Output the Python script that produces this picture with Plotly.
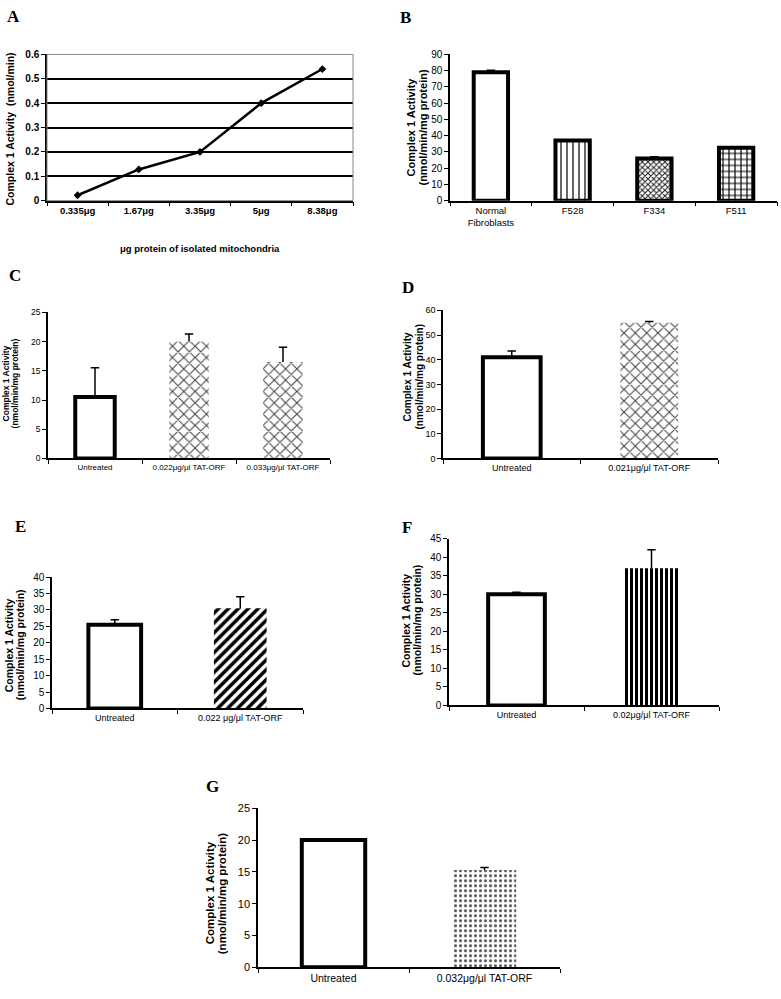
import plotly.graph_objects as go

W, H = 781, 999

# ---- data ----
a_cats = ['0.335μg', '1.67μg', '3.35μg', '5μg', '8.38μg']
a_vals = [0.022, 0.128, 0.2, 0.4, 0.54]

b_cats = ['Normal<br>Fibroblasts', 'F528', 'F334', 'F511']
b_vals = [79, 37, 26, 32.5]
b_err = [1.2, 0.3, 1.0, 0.3]

c_cats = ['Untreated', '0.022μg/μl TAT-ORF', '0.033μg/μl TAT-ORF']
c_vals = [10.5, 20, 16.5]
c_err = [5.0, 1.3, 2.5]

d_cats = ['Untreated', '0.021μg/μl TAT-ORF']
d_vals = [41, 55]
d_err = [2.5, 0.5]

e_cats = ['Untreated', '0.022 μg/μl TAT-ORF']
e_vals = [25.5, 30.5]
e_err = [1.5, 3.5]

f_cats = ['Untreated', '0.02μg/μl TAT-ORF']
f_vals = [30, 37]
f_err = [0.5, 5.0]

g_cats = ['Untreated', '0.032μg/μl TAT-ORF']
g_vals = [20, 15.3]
g_err = [0.2, 0.4]

SANS = 'Liberation Sans, Arial, sans-serif'
SERIF = 'Liberation Serif, Times New Roman, serif'
TITLE1 = 'Complex 1 Activity'
TITLE2 = '(nmol/min/mg protein)'


def px_x(p):
    return p / W


def px_y(p):
    return 1 - p / H


fig = go.Figure()
layout = dict(width=W, height=H, margin=dict(l=0, r=0, t=0, b=0),
              paper_bgcolor='white', plot_bgcolor='white',
              showlegend=False, barmode='overlay', annotations=[], shapes=[])


def add_axes(i, x0, x1, y0, y1, ymax, dtick, ncat, ytick_size, xtick_size, bold=False):
    # one pair of axes per panel, placed in pixel coordinates
    xa = 'xaxis' if i == 1 else 'xaxis%d' % i
    ya = 'yaxis' if i == 1 else 'yaxis%d' % i
    weight = 'bold' if bold else 'normal'
    layout[xa] = dict(domain=[px_x(x0), px_x(x1)], anchor='y' if i == 1 else 'y%d' % i,
                      range=[-0.5, ncat - 0.5], type='category', showline=True,
                      linecolor='black', linewidth=1.5, ticks='outside', ticklen=4,
                      tickson='boundaries', tickcolor='black', showgrid=False,
                      tickfont=dict(family=SANS, size=xtick_size, color='black', weight=weight),
                      fixedrange=True)
    layout[ya] = dict(domain=[px_y(y1), px_y(y0)], anchor='x' if i == 1 else 'x%d' % i,
                      range=[0, ymax], dtick=dtick, showline=True, linecolor='black',
                      linewidth=1.5, ticks='outside', ticklen=4, tickcolor='black',
                      showgrid=False, zeroline=False,
                      tickfont=dict(family=SANS, size=ytick_size, color='black', weight=weight),
                      fixedrange=True)


def add_bars(i, cats, vals, errs, styles):
    xr = 'x' if i == 1 else 'x%d' % i
    yr = 'y' if i == 1 else 'y%d' % i
    for c, v, e, st in zip(cats, vals, errs, styles):
        marker = dict(color='white', line=dict(color='black', width=st.get('lw', 0)))
        if 'shape' in st:
            marker['pattern'] = dict(shape=st['shape'], fgcolor=st.get('fg', 'black'),
                                     fgopacity=1, bgcolor='white', size=st.get('size', 6),
                                     solidity=st.get('sol', 0.3))
        # error stem only upward, no cap
        fig.add_trace(go.Bar(x=[c], y=[v], width=0.42, marker=marker, xaxis=xr, yaxis=yr,
                             error_y=dict(type='data', symmetric=False, array=[e],
                                          arrayminus=[0], color='black', thickness=1.5,
                                          width=0)))
        # cap at the top of the error bar
        fig.add_trace(go.Scatter(x=[c], y=[v + e], mode='markers', xaxis=xr, yaxis=yr,
                                 marker=dict(symbol='line-ew', size=6,
                                             line=dict(color='black', width=1.5))))


def rot_text(text, x, y, size):
    layout['annotations'].append(dict(text=text, x=px_x(x), y=px_y(y), xref='paper',
                                      yref='paper', showarrow=False, textangle=-90,
                                      xanchor='center', yanchor='middle',
                                      font=dict(family=SANS, size=size, color='black',
                                                weight='bold')))


def ytitle(x1, x2, y, size):
    # two-line y title, each line placed on its own
    rot_text(TITLE1, x1, y, size)
    rot_text(TITLE2, x2, y, size)


def letter(text, x, y):
    layout['annotations'].append(dict(text=text, x=px_x(x), y=px_y(y), xref='paper',
                                      yref='paper', showarrow=False,
                                      xanchor='center', yanchor='middle',
                                      font=dict(family=SERIF, size=17, color='black',
                                                weight='bold')))


# ---- A: line chart ----
add_axes(1, 47, 353, 49, 197, 0.6, 0.1, 5, 10, 9.5, bold=True)
layout['yaxis'].update(showgrid=True, gridcolor='black', gridwidth=1.5)
layout['shapes'].append(dict(type='rect', xref='x domain', yref='y domain', x0=0, x1=1,
                             y0=0, y1=1, line=dict(color='#888888', width=1)))
fig.add_trace(go.Scatter(x=a_cats, y=a_vals, mode='lines+markers', xaxis='x', yaxis='y',
                         line=dict(color='black', width=2.5),
                         marker=dict(symbol='diamond', size=6, color='black')))
rot_text('Complex 1 Activity  (nmol/min)', 10, 125, 10.5)
layout['annotations'].append(dict(text='μg protein of isolated mitochondria', x=px_x(200),
                                  y=px_y(245), xref='paper', yref='paper', showarrow=False,
                                  xanchor='center', yanchor='middle',
                                  font=dict(family=SANS, size=9.5, color='black', weight='bold')))
letter('A', 13, 11)

# ---- B ----
add_axes(2, 450, 777, 49, 197, 90, 10, 4, 10, 9.5)
add_bars(2, b_cats, b_vals, b_err, [
    dict(lw=4),
    dict(lw=4, shape='|', size=6, sol=0.2),
    dict(lw=4, shape='x', size=4, sol=0.45, fg='#222222'),
    dict(lw=4, shape='+', size=6, sol=0.35),
])
ytitle(411, 423, 123, 11)
letter('B', 405, 12)

# ---- C ----
add_axes(3, 48, 330, 310, 458, 25, 5, 3, 8.5, 8)
add_bars(3, c_cats, c_vals, c_err, [
    dict(lw=4),
    dict(shape='x', size=8, sol=0.25, fg='#444444'),
    dict(shape='x', size=8, sol=0.25, fg='#444444'),
])
ytitle(6, 15, 382, 8.5)
letter('C', 15, 273)

# ---- D ----
add_axes(4, 443, 718, 308, 458, 60, 10, 2, 9, 9)
add_bars(4, d_cats, d_vals, d_err, [
    dict(lw=4),
    dict(shape='x', size=8, sol=0.25, fg='#444444'),
])
ytitle(407, 419, 375, 10)
letter('D', 408, 285)

# ---- E ----
add_axes(5, 52, 303, 578, 711, 40, 5, 2, 10, 9)
add_bars(5, e_cats, e_vals, e_err, [
    dict(lw=4),
    dict(shape='/', size=7, sol=0.5),
])
ytitle(9, 20, 647, 10.5)
letter('E', 20, 527)

# ---- F ----
add_axes(6, 449, 719, 539, 708, 45, 5, 2, 10, 9)
add_bars(6, f_cats, f_vals, f_err, [
    dict(lw=4),
    dict(shape='|', size=5, sol=0.6),
])
ytitle(406, 417, 622, 10.5)
letter('F', 407, 528)

# ---- G ----
add_axes(7, 258, 560, 812, 973, 25, 5, 2, 11, 10.5)
add_bars(7, g_cats, g_vals, g_err, [
    dict(lw=4),
    dict(shape='.', size=5, sol=0.3, fg='#555555'),
])
ytitle(210, 222, 898, 11.5)
letter('G', 212, 790)

fig.update_layout(**layout)
fig.write_html('out.html', config={'displayModeBar': False},
               post_script="document.body.style.margin='0';")
